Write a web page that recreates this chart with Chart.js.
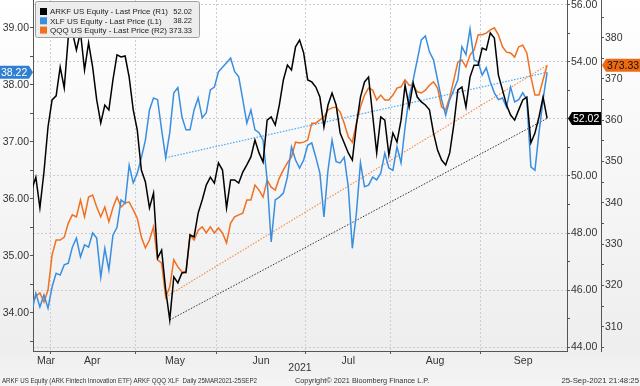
<!DOCTYPE html>
<html>
<head>
<meta charset="utf-8">
<script src="https://cdn.jsdelivr.net/npm/chart.js@4"></script>
<style>
  html, body { margin: 0; padding: 0; background: #fff; }
  #wrap { width: 640px; height: 386px; }
</style>
</head>
<body>
<div id="wrap"><canvas id="chart" width="640" height="386"></canvas></div>
<script>
// daily closes 25 Mar 2021 - 24 Sep 2021 (trading days)
const arkf = [49.51,49.96,48.88,50.14,51.72,52.67,52.81,53.82,53.09,54.88,
  55.05,54.42,55.05,53.72,54.67,53.82,52.67,51.86,52.49,52.32,
  53.37,54.25,54.18,54.21,53.47,52.32,51.61,50.21,49.79,48.88,
  49.40,47.12,47.40,46.00,44.95,46.46,46.25,46.60,46.63,47.93,
  47.86,48.70,49.16,49.68,49.96,49.75,50.46,50.21,48.88,49.86,
  49.86,49.75,50.14,50.39,50.67,51.26,50.81,50.49,51.96,52.07,
  51.79,52.49,53.37,53.89,53.72,54.53,54.77,54.32,53.37,53.30,
  53.12,52.77,51.72,52.49,52.91,52.49,51.51,51.16,50.81,50.56,
  51.79,52.77,53.30,53.47,52.14,50.81,52.07,51.96,50.74,51.51,
  51.19,51.96,53.19,52.42,53.26,52.77,52.60,52.49,52.32,51.51,
  50.91,50.56,50.39,50.81,51.79,53.02,53.12,52.42,53.47,53.89,
  53.89,54.49,54.42,55.02,54.84,53.54,53.02,52.49,52.14,51.96,
  52.32,52.67,52.77,51.16,51.51,52.07,52.77,52.02];

const xlf = [34.01,34.34,34.10,34.31,34.08,34.45,34.69,34.66,34.84,34.87,
  35.15,35.31,34.98,35.19,35.15,35.40,35.31,34.62,35.13,34.75,
  35.36,35.50,35.98,35.92,36.59,36.28,36.45,36.72,37.03,37.56,
  37.77,37.74,37.21,36.72,37.16,37.86,37.95,37.44,37.21,37.21,
  37.56,37.77,37.42,37.51,37.91,37.96,38.23,38.31,38.39,38.47,
  38.23,38.14,37.74,37.33,37.56,37.21,37.16,37.03,36.33,35.24,
  35.98,36.03,36.10,36.38,36.91,36.68,36.54,36.68,36.94,36.98,
  36.73,36.45,35.68,36.50,37.03,36.65,36.63,36.73,36.21,35.13,
  35.75,36.63,36.21,36.24,36.38,36.33,36.45,36.80,36.54,36.50,
  36.91,36.63,37.26,37.79,38.09,38.44,38.79,38.86,38.58,38.44,
  38.09,37.74,37.47,37.74,37.91,38.09,38.67,38.53,38.98,38.44,
  38.40,38.17,38.30,38.05,37.86,37.74,37.77,37.61,37.96,37.70,
  37.74,37.86,37.74,36.56,36.50,37.16,37.74,38.22];

const qqq = [315.3,317.4,318.2,316.0,318.9,327.4,331.0,331.0,331.7,335.1,
  337.1,336.6,340.7,336.6,341.4,341.9,339.0,336.6,339.0,335.4,
  338.8,341.4,339.0,340.0,340.2,338.3,336.3,331.7,329.1,331.0,
  334.2,326.2,325.4,317.2,319.6,326.2,324.5,323.3,323.0,332.2,
  331.0,333.4,334.2,332.7,334.2,332.7,333.9,332.7,330.3,335.1,
  336.6,337.1,337.5,340.7,340.7,344.3,343.1,341.4,345.5,343.8,
  343.1,346.0,348.0,349.7,351.1,354.7,354.5,354.7,355.2,359.3,
  359.3,360.1,360.8,362.5,363.0,363.2,362.0,359.3,356.0,354.7,
  359.3,363.2,366.1,367.8,367.3,364.9,366.1,364.9,364.9,366.1,
  367.8,368.1,369.8,368.5,368.5,366.9,366.6,367.3,368.5,369.3,
  367.8,363.2,362.5,365.6,369.8,374.1,374.6,372.9,375.8,377.0,
  380.7,380.7,381.1,381.9,382.4,380.7,377.8,376.5,376.3,375.3,
  377.8,378.2,376.3,370.5,366.1,366.1,369.8,373.33];

// trend lines start at the May lows
const trendStartArkf = 34;
const trendStartXlf = 33;
const trendStartQqq = 33;

const monthNames = ['Mar', 'Apr', 'May', 'Jun', 'Jul', 'Aug', 'Sep'];
const monthMid = [3.5, 14.9, 35.3, 56.5, 78, 99.4, 121.1];
const monthStart = [4.5, 25.5, 45.5, 67.5, 88.5, 110.5];
const leftTicks = [33.5, 34, 34.5, 35, 35.5, 36, 36.5, 37, 37.5, 38, 38.5, 39];
const r1Ticks = [44, 45, 46, 47, 48, 49, 50, 51, 52, 53, 54, 55, 56];
const r2Ticks = [305, 310, 315, 320, 325, 330, 335, 340, 345, 350, 355, 360, 365, 370, 375, 380, 385];

const BLACK = '#000000';
const BLUE = '#3a8ee0';
const ORANGE = '#f07020';
const FONT = "'Liberation Sans', Arial, sans-serif";

const pts = arr => arr.map((v, i) => ({x: i, y: v}));
const trend = (arr, s) => [{x: s, y: arr[s]}, {x: arr.length - 1, y: arr[arr.length - 1]}];
const last = arr => arr[arr.length - 1];

Chart.defaults.font.family = FONT;
Chart.defaults.font.size = 10.5;
Chart.defaults.color = '#333';

function tag(ctx, tipX, y, bodyX1, bodyX2, h, fill, txtColor, text) {
  ctx.save();
  ctx.fillStyle = fill;
  ctx.beginPath();
  if (tipX > bodyX2) {
    ctx.moveTo(bodyX1, y - h / 2);
    ctx.lineTo(bodyX2, y - h / 2);
    ctx.lineTo(tipX, y);
    ctx.lineTo(bodyX2, y + h / 2);
    ctx.lineTo(bodyX1, y + h / 2);
  } else {
    ctx.moveTo(tipX, y);
    ctx.lineTo(bodyX1, y - h / 2);
    ctx.lineTo(bodyX2, y - h / 2);
    ctx.lineTo(bodyX2, y + h / 2);
    ctx.lineTo(bodyX1, y + h / 2);
  }
  ctx.closePath();
  ctx.fill();
  ctx.fillStyle = txtColor;
  ctx.font = '10.5px ' + FONT;
  ctx.textBaseline = 'middle';
  ctx.textAlign = 'left';
  ctx.fillText(text, bodyX1 + 1, y + 0.5);
  ctx.restore();
}

const bloomberg = {
  id: 'bloomberg',
  beforeDraw(chart) {
    const ctx = chart.ctx;
    const g = ctx.createLinearGradient(0, 0, 0, 386);
    g.addColorStop(0, '#ffffff');
    g.addColorStop(0.9, '#eeeeee');
    g.addColorStop(1, '#f4f4f4');
    ctx.save();
    ctx.fillStyle = g;
    ctx.fillRect(0, 0, 640, 386);
    ctx.restore();
  },
  afterDatasetsDraw(chart) {
    const ctx = chart.ctx;
    // legend box
    ctx.save();
    ctx.fillStyle = 'rgba(236,236,236,0.97)';
    ctx.strokeStyle = '#a0a0a0';
    ctx.lineWidth = 1;
    ctx.beginPath();
    ctx.roundRect(35.5, 1.5, 164, 36, 2);
    ctx.fill();
    ctx.stroke();
    const rows = [
      [BLACK, 'ARKF US Equity - Last Price (R1)', last(arkf).toFixed(2)],
      [BLUE, 'XLF US Equity - Last Price (L1)', last(xlf).toFixed(2)],
      [ORANGE, 'QQQ US Equity - Last Price (R2)', last(qqq).toFixed(2)]
    ];
    ctx.textBaseline = 'middle';
    rows.forEach((r, k) => {
      const y = 11.5 + k * 9.3;
      ctx.fillStyle = r[0];
      ctx.fillRect(40, y - 3.5, 7, 7);
      ctx.fillStyle = '#222';
      ctx.font = '8px ' + FONT;
      ctx.textAlign = 'left';
      ctx.fillText(r[1], 50, y + 0.5, 118);
      ctx.font = '7.5px ' + FONT;
      ctx.textAlign = 'right';
      ctx.fillText(r[2], 192, y + 0.5);
    });
    ctx.restore();
  },
  afterDraw(chart) {
    const ctx = chart.ctx;
    const s = chart.scales;
    tag(ctx, 33, s.yL.getPixelForValue(last(xlf)), 0, 29, 13, '#2f7fd3', '#fff', last(xlf).toFixed(2));
    tag(ctx, 568, s.yR1.getPixelForValue(last(arkf)), 572, 601, 13, '#000', '#fff', last(arkf).toFixed(2));
    tag(ctx, 602, s.yR2.getPixelForValue(last(qqq)), 606, 640, 13, '#ee6a10', '#111', last(qqq).toFixed(2));

    ctx.save();
    ctx.fillStyle = '#333';
    ctx.textBaseline = 'middle';
    ctx.textAlign = 'center';
    ctx.font = '10.5px ' + FONT;
    ctx.fillText('2021', (chart.chartArea.left + chart.chartArea.right) / 2, 368);
    ctx.font = '7.3px ' + FONT;
    ctx.textAlign = 'left';
    ctx.fillText('ARKF US Equity (ARK Fintech Innovation ETF) ARKF QQQ XLF  Daily 25MAR2021-25SEP2', 2, 381, 255);
    ctx.fillText('Copyright\u00a9 2021 Bloomberg Finance L.P.', 295, 381);
    ctx.font = '7.8px ' + FONT;
    ctx.textAlign = 'right';
    ctx.fillText('25-Sep-2021 21:48:25', 639, 381);
    ctx.restore();
  }
};

const GRID = '#c9cdd8';

new Chart(document.getElementById('chart'), {
  type: 'line',
  data: {
    datasets: [
      {label: 'ARKF', data: pts(arkf), yAxisID: 'yR1', borderColor: BLACK, borderWidth: 1.5, order: 0},
      {label: 'XLF', data: pts(xlf), yAxisID: 'yL', borderColor: BLUE, borderWidth: 1.5, order: 1},
      {label: 'QQQ', data: pts(qqq), yAxisID: 'yR2', borderColor: ORANGE, borderWidth: 1.5, order: 2},
      {label: 'ARKF trend', data: trend(arkf, trendStartArkf), yAxisID: 'yR1', borderColor: '#333', borderWidth: 1, borderDash: [1.5, 1.5], order: 3},
      {label: 'XLF trend', data: trend(xlf, trendStartXlf), yAxisID: 'yL', borderColor: '#4aa8f2', borderWidth: 1.2, borderDash: [1.5, 1.5], order: 3},
      {label: 'QQQ trend', data: trend(qqq, trendStartQqq), yAxisID: 'yR2', borderColor: '#f7904a', borderWidth: 1.2, borderDash: [1.5, 1.5], order: 3}
    ]
  },
  options: {
    responsive: false,
    animation: false,
    devicePixelRatio: 1,
    layout: {padding: 0},
    elements: {point: {radius: 0}, line: {tension: 0}},
    plugins: {legend: {display: false}, tooltip: {enabled: false}},
    scales: {
      x: {
        type: 'linear', min: 0.3, max: 131.9,
        afterBuildTicks: s => { s.ticks = monthMid.concat(monthStart).sort((a, b) => a - b).map(v => ({value: v})); },
        afterFit: s => { s.height = 35; s.paddingLeft = 0; s.paddingRight = 0; },
        ticks: {
          autoSkip: false, maxRotation: 0, padding: 1,
          callback: v => { const k = monthMid.indexOf(v); return k >= 0 ? monthNames[k] : ''; }
        },
        grid: {
          color: c => (c.tick && monthStart.includes(c.tick.value)) ? GRID : 'rgba(0,0,0,0)',
          tickColor: c => (c.tick && monthStart.includes(c.tick.value)) ? '#555' : 'rgba(0,0,0,0)',
          tickLength: 3, tickBorderDash: []
        },
        border: {color: '#555', dash: [2, 2]}
      },
      yL: {
        position: 'left', min: 33.327, max: 39.49,
        afterBuildTicks: s => { s.ticks = leftTicks.map(v => ({value: v})); },
        afterFit: s => { s.width = 33; s.paddingTop = 0; s.paddingBottom = 0; },
        ticks: {padding: 1, callback: v => Number.isInteger(v) ? v.toFixed(2) : ''},
        grid: {drawOnChartArea: false, color: '#555', tickLength: 3},
        border: {color: '#555'}
      },
      yR1: {
        position: 'right', weight: 0, min: 43.86, max: 56.175,
        afterBuildTicks: s => { s.ticks = r1Ticks.map(v => ({value: v})); },
        afterFit: s => { s.width = 34; s.paddingTop = 0; s.paddingBottom = 0; },
        ticks: {padding: 1, callback: v => v % 2 === 0 ? v.toFixed(2) : ''},
        grid: {
          color: c => (c.tick && c.tick.value % 2 === 0) ? GRID : 'rgba(0,0,0,0)',
          tickColor: '#555', tickLength: 3, tickBorderDash: []
        },
        border: {color: '#555', dash: [2, 2]}
      },
      yR2: {
        position: 'right', weight: 1, min: 304.12, max: 389.13,
        afterBuildTicks: s => { s.ticks = r2Ticks.map(v => ({value: v})); },
        afterFit: s => { s.width = 39; s.paddingTop = 0; s.paddingBottom = 0; },
        ticks: {padding: 1, callback: v => v % 10 === 0 ? String(v) : ''},
        grid: {drawOnChartArea: false, color: '#555', tickLength: 3},
        border: {color: '#555'}
      }
    }
  },
  plugins: [bloomberg]
});
</script>
</body>
</html>
